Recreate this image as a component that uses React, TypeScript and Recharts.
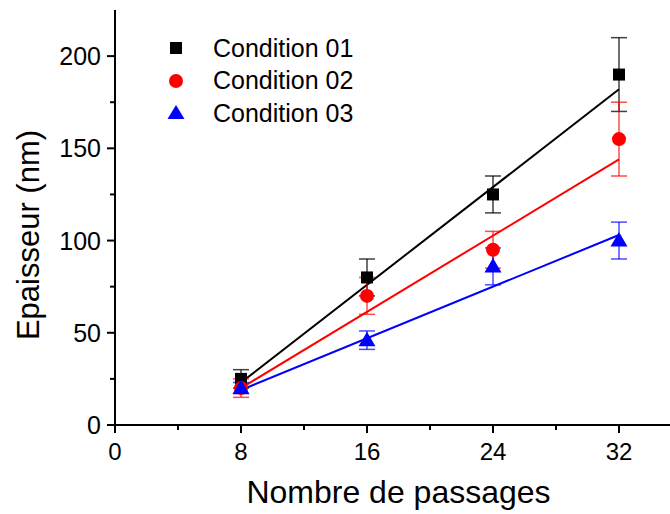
import {
  ComposedChart,
  ErrorBar,
  Label,
  Line,
  Scatter,
  XAxis,
  YAxis,
} from 'recharts'

const passages = [8, 16, 24, 32]
const cond1 = [25, 80, 125, 190]
const err1 = [5, 10, 10, 20]
const cond2 = [20, 70, 95, 155]
const err2 = [5, 10, 10, 20]
const cond3 = [20, 46, 86, 100]
const err3 = [3, 5, 10, 10]

// linear fits, read at both ends
const fitX = [8, 32]
const fit1 = [23, 182]
const fit2 = [20, 144]
const fit3 = [19, 103]

const xTicks = [0, 4, 8, 12, 16, 20, 24, 28, 32]
const yTicks = [0, 25, 50, 75, 100, 125, 150, 175, 200]

const FONT = '"Liberation Sans", Arial, sans-serif'

const pts = (ys: number[], errs: number[]) => passages.map((x, i) => ({ x, y: ys[i], err: errs[i] }))
const fitPts = (ys: number[]) => fitX.map((x, i) => ({ x, y: ys[i] }))

const Square = (p: any) => <rect x={p.cx - 6} y={p.cy - 6} width={12} height={12} fill="#000" />
const Dot = (p: any) => <circle cx={p.cx} cy={p.cy} r={7} fill="#ff0000" />
const Tri = (p: any) => (
  <polygon points={`${p.cx},${p.cy - 8.5} ${p.cx - 8.5},${p.cy + 6} ${p.cx + 8.5},${p.cy + 6}`} fill="#0000ff" />
)

const XTick = ({ x, y, payload }: any) => {
  const major = payload.value % 8 === 0
  return (
    <g>
      <line x1={x} y1={y} x2={x} y2={y + (major ? 8 : 5)} stroke="#000" strokeWidth={2} />
      {major && (
        <text x={x} y={y + 35} textAnchor="middle" fontSize={24} fontFamily={FONT} fill="#000">
          {payload.value}
        </text>
      )}
    </g>
  )
}

const TopTick = ({ x, y }: any) => (
  <line x1={x} y1={y} x2={x} y2={y + 3} stroke="#000" strokeWidth={1.5} />
)

const YTick = ({ x, y, payload }: any) => {
  const major = payload.value % 50 === 0
  return (
    <g>
      <line x1={x} y1={y} x2={x - (major ? 8 : 5)} y2={y} stroke="#000" strokeWidth={2} />
      {major && (
        <text x={x - 14} y={y + 9} textAnchor="end" fontSize={25} fontFamily={FONT} fill="#000">
          {payload.value}
        </text>
      )}
    </g>
  )
}

const legendRows = [
  { name: 'Condition 01', marker: <rect x={11} y={4} width={12} height={12} fill="#000" /> },
  { name: 'Condition 02', marker: <circle cx={17} cy={10} r={7} fill="#ff0000" /> },
  { name: 'Condition 03', marker: <polygon points="17,2 8.5,16 25.5,16" fill="#0000ff" /> },
]

export default function App() {
  return (
    <div style={{ position: 'absolute', left: 0, top: 0, width: 670, height: 514, overflow: 'hidden', background: '#fff', fontFamily: FONT }}>
      <ComposedChart width={690} height={514} margin={{ top: 10, right: 8, left: 0, bottom: 0 }}>
        <XAxis
          xAxisId="top"
          orientation="top"
          type="number"
          domain={[0, 36]}
          ticks={xTicks}
          height={0}
          tickSize={0}
          tickMargin={0}
          tick={<TopTick />}
          stroke="#000"
          strokeWidth={2}
        />
        <XAxis
          dataKey="x"
          type="number"
          domain={[0, 36]}
          ticks={xTicks}
          height={89}
          tickSize={0}
          tickMargin={0}
          tick={<XTick />}
          stroke="#000"
          strokeWidth={2}
          interval={0}
        >
          <Label
            content={({ viewBox }: any) => (
              <text x={viewBox.x + viewBox.width / 2} y={503} textAnchor="middle" fontSize={32} fontFamily={FONT} fill="#000">
                Nombre de passages
              </text>
            )}
          />
        </XAxis>
        <YAxis
          type="number"
          domain={[0, 225]}
          ticks={yTicks}
          width={115}
          tickSize={0}
          tickMargin={0}
          tick={<YTick />}
          stroke="#000"
          strokeWidth={2}
          interval={0}
        >
          <Label
            content={() => (
              <text x={39} y={235} transform="rotate(-90, 39, 235)" textAnchor="middle" fontSize={31} fontFamily={FONT} fill="#000">
                Epaisseur (nm)
              </text>
            )}
          />
        </YAxis>

        <Line data={fitPts(fit1)} dataKey="y" stroke="#000" strokeWidth={2} dot={false} isAnimationActive={false} />
        <Line data={fitPts(fit2)} dataKey="y" stroke="#ff0000" strokeWidth={2} dot={false} isAnimationActive={false} />
        <Line data={fitPts(fit3)} dataKey="y" stroke="#0000ff" strokeWidth={2} dot={false} isAnimationActive={false} />

        <Scatter data={pts(cond1, err1)} dataKey="y" shape={Square} isAnimationActive={false}>
          <ErrorBar dataKey="err" direction="y" width={8} stroke="#000" strokeWidth={1.5} strokeOpacity={0.75} />
        </Scatter>
        <Scatter data={pts(cond2, err2)} dataKey="y" shape={Dot} isAnimationActive={false}>
          <ErrorBar dataKey="err" direction="y" width={8} stroke="#ff0000" strokeWidth={1.5} strokeOpacity={0.7} />
        </Scatter>
        <Scatter data={pts(cond3, err3)} dataKey="y" shape={Tri} isAnimationActive={false}>
          <ErrorBar dataKey="err" direction="y" width={8} stroke="#0000ff" strokeWidth={1.5} strokeOpacity={0.7} />
        </Scatter>
      </ComposedChart>

      <div style={{ position: 'absolute', left: 159, top: 32 }}>
        {legendRows.map((r) => (
          <div key={r.name} style={{ display: 'flex', alignItems: 'center', height: 32.5 }}>
            <svg width={34} height={20}>{r.marker}</svg>
            <span style={{ marginLeft: 20, fontSize: 25, lineHeight: '25px', color: '#000' }}>{r.name}</span>
          </div>
        ))}
      </div>
    </div>
  )
}
